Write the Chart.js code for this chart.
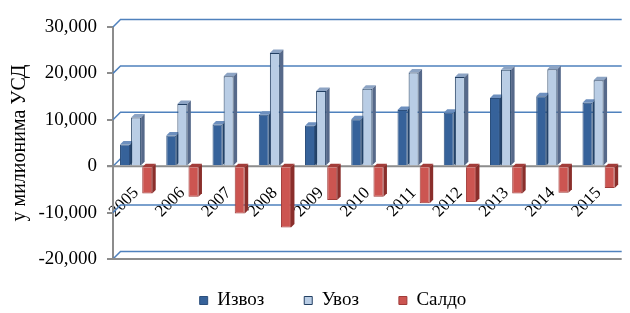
<!DOCTYPE html>
<html>
<head>
<meta charset="utf-8">
<script src="https://cdn.jsdelivr.net/npm/chart.js@4"></script>
<style>
  html, body { margin: 0; padding: 0; background: #fff; }
  #wrap { width: 630px; height: 313px; }
</style>
</head>
<body>
<div id="wrap"><canvas id="tradeChart" width="630" height="313"></canvas></div>
<script>
// Values (million USD)
const years = ["2005", "2006", "2007", "2008", "2009", "2010", "2011", "2012", "2013", "2014", "2015"];
const exportsUsd = [4700, 6600, 9000, 11100, 8700, 10100, 12100, 11500, 14700, 15100, 13700];
const importsUsd = [10500, 13400, 19400, 24400, 16200, 16700, 20200, 19200, 20800, 20900, 18500];
const balanceUsd = [-5900, -6600, -10200, -13200, -7300, -6600, -8000, -7700, -5900, -5700, -4700];
const yTicks = [-20000, -10000, 0, 10000, 20000, 30000];

const serif = "'Liberation Serif', 'Times New Roman', serif";
const DEPTH = 3.5;   // 3D look of the bars
const WALL = 7.5;    // offset of the back wall gridlines

// top / side shades for each series
const faces = [
  { top: "#6d8fbe", side: "#24446c" },
  { top: "#8da4c4", side: "#56698a" },
  { top: "#a23c39", side: "#8a2e2b" }
];

// back wall, floor edges and the 3D sides of the bars
const wallPlugin = {
  id: "wall",
  beforeDatasetsDraw(chart) {
    const { ctx, chartArea: a, scales: { y } } = chart;
    ctx.save();
    ctx.lineWidth = 1.5;
    ctx.strokeStyle = "#4f81bd";
    for (const v of yTicks) {
      const py = y.getPixelForValue(v);
      ctx.beginPath();
      ctx.moveTo(a.left, py);
      ctx.lineTo(a.left + WALL, py - WALL);
      if (v !== 0) ctx.lineTo(a.right, py - WALL);
      ctx.stroke();
    }
    // front edges: zero line and floor
    ctx.strokeStyle = "#8c8c8c";
    ctx.lineWidth = 2;
    for (const v of [0, yTicks[0]]) {
      const py = y.getPixelForValue(v);
      ctx.beginPath();
      ctx.moveTo(a.left - 6, py);
      ctx.lineTo(a.right, py);
      ctx.stroke();
    }
    // bar tops and sides
    chart.data.datasets.forEach((ds, i) => {
      const meta = chart.getDatasetMeta(i);
      meta.data.forEach(bar => {
        const l = bar.x - bar.width / 2, r = bar.x + bar.width / 2;
        const t = Math.min(bar.y, bar.base), b = Math.max(bar.y, bar.base);
        ctx.fillStyle = faces[i].top;
        ctx.beginPath();
        ctx.moveTo(l, t); ctx.lineTo(l + DEPTH, t - DEPTH);
        ctx.lineTo(r + DEPTH, t - DEPTH); ctx.lineTo(r, t);
        ctx.closePath(); ctx.fill();
        ctx.fillStyle = faces[i].side;
        ctx.beginPath();
        ctx.moveTo(r, t); ctx.lineTo(r + DEPTH, t - DEPTH);
        ctx.lineTo(r + DEPTH, b - DEPTH); ctx.lineTo(r, b);
        ctx.closePath(); ctx.fill();
      });
    });
    ctx.restore();
  },
  afterLayout(chart) {
    // legend sits a little right of the canvas centre and a bit higher
    const lg = chart.legend;
    lg.left += 36;
    lg.top -= 8;
    lg.bottom -= 8;
  }
};

new Chart(document.getElementById("tradeChart"), {
  type: "bar",
  data: {
    labels: years,
    datasets: [
      { label: "Извоз", data: exportsUsd, backgroundColor: "#36629a", borderColor: "#2c4f7c", borderWidth: 1 },
      { label: "Увоз", data: importsUsd, backgroundColor: "#b9cde5", borderColor: "#223f62", borderWidth: 1 },
      { label: "Салдо", data: balanceUsd, backgroundColor: "#cc5551", borderColor: "#a03b38", borderWidth: 1 }
    ]
  },
  options: {
    responsive: false,
    animation: false,
    datasets: { bar: { categoryPercentage: 0.72, barPercentage: 0.9 } },
    layout: { padding: { top: 27, right: 0, bottom: -15, left: 0 } },
    plugins: {
      legend: {
        position: "bottom",
        labels: {
          boxWidth: 8, boxHeight: 8, padding: 40,
          color: "#000",
          font: { family: serif, size: 19 }
        }
      },
      tooltip: { enabled: false }
    },
    scales: {
      x: {
        position: { y: 0 },
        grid: { display: false, drawTicks: false },
        border: { display: false },
        ticks: {
          minRotation: 45, maxRotation: 45, padding: 17,
          color: "#000",
          font: { family: serif, size: 17 }
        }
      },
      y: {
        min: -20000, max: 30000,
        afterBuildTicks: s => { s.ticks = yTicks.map(v => ({ value: v })); },
        ticks: {
          padding: 10,
          color: "#000",
          font: { family: serif, size: 19 },
          callback: v => v.toLocaleString("en-US")
        },
        grid: { drawOnChartArea: false, drawTicks: true, tickLength: 6, color: "#8c8c8c", lineWidth: 2 },
        border: { display: true, color: "#8c8c8c", width: 2 },
        title: {
          display: true,
          text: "у милионима УСД",
          color: "#000",
          font: { family: serif, size: 20 },
          padding: { top: 8, bottom: 0 }
        },
        afterFit: s => { s.width = 113; }
      }
    }
  },
  plugins: [wallPlugin]
});
</script>
</body>
</html>
